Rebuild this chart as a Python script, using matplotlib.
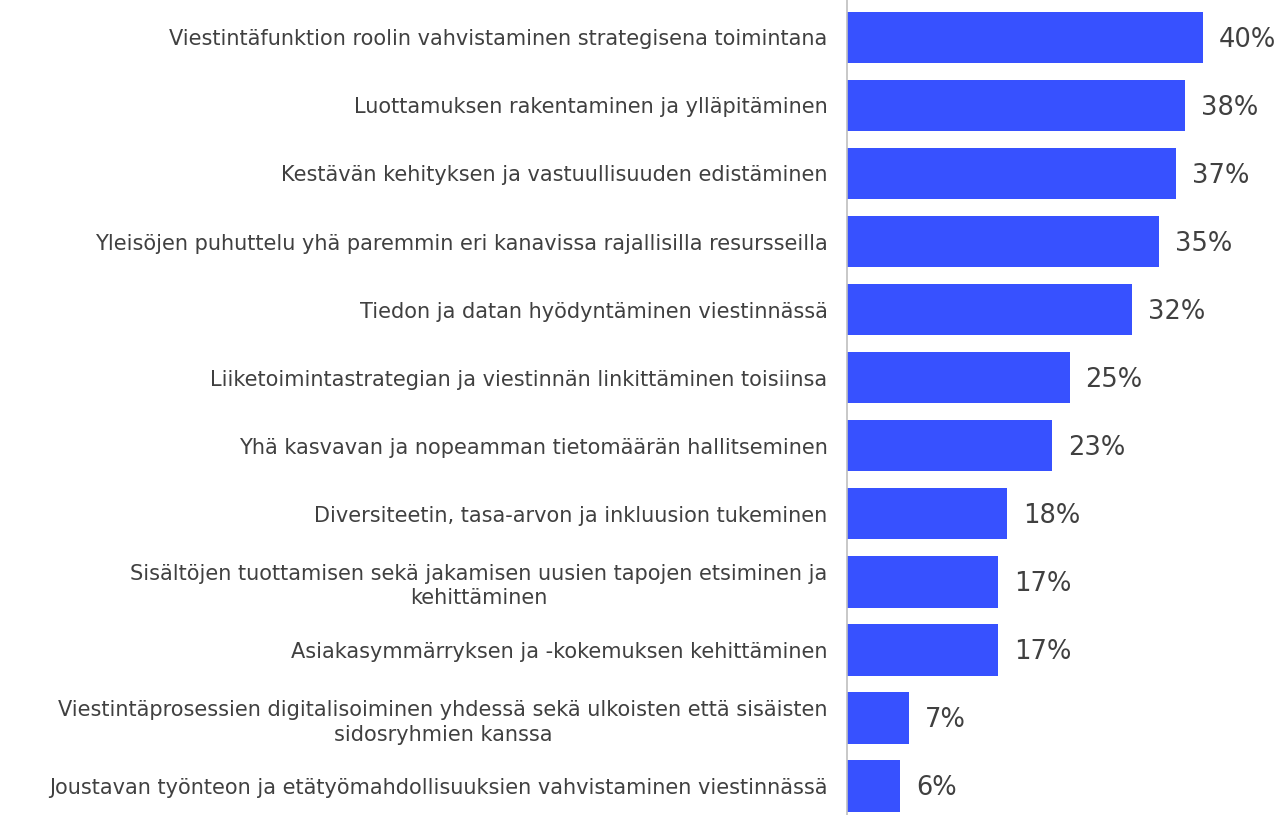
import matplotlib.pyplot as plt

categories = [
    "Viestintäfunktion roolin vahvistaminen strategisena toimintana",
    "Luottamuksen rakentaminen ja ylläpitäminen",
    "Kestävän kehityksen ja vastuullisuuden edistäminen",
    "Yleisöjen puhuttelu yhä paremmin eri kanavissa rajallisilla resursseilla",
    "Tiedon ja datan hyödyntäminen viestinnässä",
    "Liiketoimintastrategian ja viestinnän linkittäminen toisiinsa",
    "Yhä kasvavan ja nopeamman tietomäärän hallitseminen",
    "Diversiteetin, tasa-arvon ja inkluusion tukeminen",
    "Sisältöjen tuottamisen sekä jakamisen uusien tapojen etsiminen ja\nkehittäminen",
    "Asiakasymmärryksen ja -kokemuksen kehittäminen",
    "Viestintäprosessien digitalisoiminen yhdessä sekä ulkoisten että sisäisten\nsidosryhmien kanssa",
    "Joustavan työnteon ja etätyömahdollisuuksien vahvistaminen viestinnässä",
]
values = [40, 38, 37, 35, 32, 25, 23, 18, 17, 17, 7, 6]
labels = ["40%", "38%", "37%", "35%", "32%", "25%", "23%", "18%", "17%", "17%", "7%", "6%"]

bar_color = "#3751FF"
text_color = "#404040"

fig = plt.figure(figsize=(12.81, 8.15), dpi=100)
ax = fig.add_axes([847 / 1281, 0, 1 - 847 / 1281, 1])

pos = list(range(len(values)))
ax.barh(pos, values, height=0.76, color=bar_color)

for p, v, lab in zip(pos, values, labels):
    ax.text(v + 1.8, p + 0.04, lab, va="center", ha="left", fontsize=18.5,
            color=text_color, family="DejaVu Sans")

ax.set_xlim(0, 48.76)
ax.set_ylim(11.43, -0.55)

ax.set_yticks(pos)
ax.set_yticklabels(categories, fontsize=15, color=text_color,
                   family="DejaVu Sans", multialignment="center",
                   linespacing=1.3)
ax.tick_params(axis="y", length=0, pad=14)
ax.set_xticks([])

for s in ["top", "right", "bottom"]:
    ax.spines[s].set_visible(False)
ax.spines["left"].set_color("#bfbfbf")
ax.spines["left"].set_linewidth(1.2)

fig.savefig("out.png", dpi=100)
